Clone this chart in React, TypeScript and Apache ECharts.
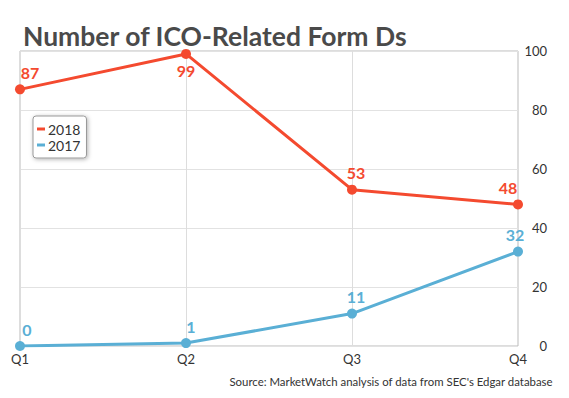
import React, { useEffect, useRef } from "react";
import * as echarts from "echarts";

const categories = ["Q1", "Q2", "Q3", "Q4"];
const values2018 = [87, 99, 53, 48];
const values2017 = [0, 1, 11, 32];
const yTicks = { min: 0, max: 100, interval: 20 };
const titleText = "Number of ICO-Related Form Ds";
const sourceText = "Source: MarketWatch analysis of data from SEC's Edgar database";

const RED = "#f44a2f";
const BLUE = "#5aafd5";

const redLabelCfg: any[] = [
  { position: "top", offset: [10, 0] },
  { position: "bottom", offset: [0, 0] },
  { position: "top", offset: [4, 0] },
  { position: "top", offset: [-10, 0] },
];
const blueLabelCfg: any[] = [
  { position: "top", offset: [7, 0] },
  { position: "top", offset: [5, 0] },
  { position: "top", offset: [4, 0] },
  { position: "top", offset: [-3, 0] },
];

export default function App() {
  const ref = useRef<HTMLDivElement>(null);
  useEffect(() => {
    const chart = echarts.init(ref.current!, null, { renderer: "svg" });
    const font = "Lato";
    const mk = (vals: number[], cfg: any[]) =>
      vals.map((v, i) => ({ value: v, label: { ...cfg[i] } }));
    chart.setOption({
      animation: false,
      textStyle: { fontFamily: font },
      title: [
        {
          text: titleText,
          left: 18,
          top: 17,
          textStyle: { fontFamily: font, fontSize: 26.5, fontWeight: "bold", color: "#4a4a4a" },
        },
        {
          text: sourceText,
          right: 11,
          top: 371,
          textStyle: { fontFamily: font, fontSize: 11.4, fontWeight: "normal", color: "#333" },
        },
      ],
      legend: {
        orient: "vertical",
        left: 33,
        top: 116,
        icon: "rect",
        itemWidth: 8,
        itemHeight: 3,
        itemGap: 2,
        padding: [6, 6, 6, 4],
        backgroundColor: "#fff",
        borderColor: "#999",
        borderWidth: 1,
        borderRadius: 3,
        shadowBlur: 4,
        shadowColor: "rgba(0,0,0,0.3)",
        shadowOffsetX: 1,
        shadowOffsetY: 1,
        textStyle: { fontFamily: font, fontSize: 14, color: "#333", padding: [0, 0, 0, -2] },
        data: ["2018", "2017"],
      },
      grid: {
        left: 20,
        right: 51,
        top: 51,
        bottom: 52,
        show: true,
        borderColor: "#bbb",
        borderWidth: 1,
      },
      xAxis: {
        type: "category",
        data: categories,
        boundaryGap: false,
        axisLine: { show: false },
        axisTick: { show: false },
        splitLine: { show: true, lineStyle: { color: "#ddd", width: 1 } },
        axisLabel: { fontFamily: font, fontSize: 13, color: "#333", margin: 6 },
      },
      yAxis: {
        type: "value",
        position: "right",
        min: yTicks.min,
        max: yTicks.max,
        interval: yTicks.interval,
        axisLine: { show: false },
        axisTick: { show: false },
        splitLine: { lineStyle: { color: "#e2e2e2", width: 1 } },
        axisLabel: { fontFamily: font, fontSize: 13, color: "#333", align: "right", margin: 29 },
      },
      series: [
        {
          name: "2018",
          type: "line",
          data: mk(values2018, redLabelCfg),
          color: RED,
          symbol: "circle",
          symbolSize: 10,
          lineStyle: { width: 3, color: RED },
          itemStyle: { color: RED },
          label: { show: true, fontFamily: font, fontSize: 16, fontWeight: "bold", color: RED, distance: 4 },
          z: 3,
        },
        {
          name: "2017",
          type: "line",
          data: mk(values2017, blueLabelCfg),
          color: BLUE,
          symbol: "circle",
          symbolSize: 10,
          lineStyle: { width: 3, color: BLUE },
          itemStyle: { color: BLUE },
          label: { show: true, fontFamily: font, fontSize: 16, fontWeight: "bold", color: BLUE, distance: 4 },
          z: 3,
        },
      ],
    });
    return () => chart.dispose();
  }, []);
  return <div ref={ref} style={{ width: 569, height: 398, position: "absolute", left: 0, top: 0 }} />;
}
